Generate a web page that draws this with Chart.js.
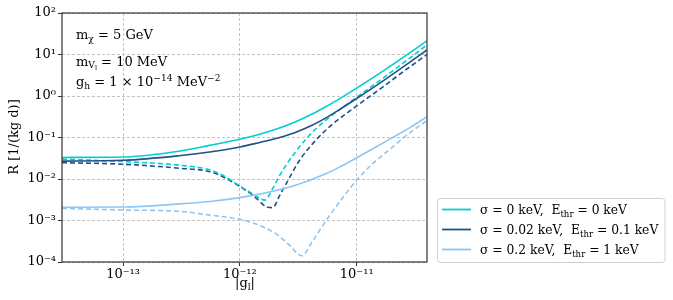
<!DOCTYPE html>
<html>
<head>
<meta charset="utf-8">
<script src="https://cdn.jsdelivr.net/npm/chart.js@4.4.1/dist/chart.umd.min.js"></script>
<style>
html,body{margin:0;padding:0;background:#fff}
#wrap{width:673px;height:300px}
</style>
</head>
<body>
<div id="wrap"><canvas id="mycanvas" width="673" height="300"></canvas></div>
<script>
// values (|g_l| on x, R in 1/(kg d) on y)
var g_cyanSolid = [3e-14, 1e-13, 3e-13, 5.5e-13, 1e-12, 1.48e-12, 2e-12, 2.9e-12, 4.2e-12, 5.5e-12, 7e-12, 1e-11, 1.58e-11, 2.5e-11, 4e-11];
var R_cyanSolid = [0.0331, 0.0339, 0.0468, 0.0646, 0.0912, 0.120, 0.155, 0.229, 0.372, 0.562, 0.832, 1.55, 3.55, 8.51, 21.4];

var g_darkSolid = [3e-14, 1e-13, 3e-13, 5.5e-13, 1e-12, 1.48e-12, 2e-12, 2.9e-12, 4.2e-12, 5.5e-12, 7e-12, 1e-11, 1.58e-11, 2.5e-11, 4e-11];
var R_darkSolid = [0.0269, 0.0282, 0.0363, 0.0447, 0.0589, 0.0759, 0.0933, 0.129, 0.2, 0.302, 0.457, 0.871, 2.04, 5.01, 12.9];

var g_lightSolid = [3e-14, 1e-13, 3.07e-13, 5.55e-13, 1e-12, 1.48e-12, 2.86e-12, 5.5e-12, 7.5e-12, 1e-11, 1.4e-11, 2.03e-11, 2.9e-11, 4e-11];
var R_lightSolid = [0.00208, 0.00211, 0.00251, 0.00288, 0.00355, 0.00432, 0.00676, 0.0135, 0.0209, 0.0324, 0.055, 0.1, 0.178, 0.316];

var g_cyanDash = [3e-14, 1e-13, 3.07e-13, 5.55e-13, 7.45e-13, 1e-12, 1.29e-12, 1.48e-12, 1.64e-12, 1.88e-12, 2.2e-12, 2.86e-12, 3.96e-12, 5.5e-12, 7.64e-12, 1e-11, 1.57e-11, 2.49e-11, 4e-11];
var R_cyanDash = [0.0302, 0.0263, 0.0214, 0.0166, 0.0115, 0.00676, 0.00437, 0.00339, 0.00309, 0.00543, 0.0125, 0.0378, 0.115, 0.269, 0.537, 0.933, 2.34, 6.17, 17.0];

var g_darkDash = [3e-14, 1e-13, 3.07e-13, 5.55e-13, 7.45e-13, 1e-12, 1.29e-12, 1.43e-12, 1.57e-12, 1.73e-12, 1.91e-12, 2.2e-12, 2.51e-12, 3.26e-12, 4.52e-12, 6.27e-12, 1e-11, 1.57e-11, 2.49e-11, 4e-11];
var R_darkDash = [0.0247, 0.0227, 0.0181, 0.015, 0.0107, 0.00661, 0.00407, 0.00316, 0.00245, 0.00209, 0.00204, 0.00411, 0.008, 0.0288, 0.0891, 0.214, 0.575, 1.45, 3.8, 10.0];

var g_lightDash = [3e-14, 1e-13, 3.07e-13, 5.55e-13, 1e-12, 1.48e-12, 2.06e-12, 2.67e-12, 3.37e-12, 4.23e-12, 5.5e-12, 7.64e-12, 1e-11, 1.29e-11, 2.03e-11, 2.67e-11, 4e-11];
var R_lightDash = [0.00197, 0.00179, 0.00166, 0.00135, 0.00107, 0.000759, 0.000468, 0.000251, 0.000141, 0.000331, 0.00102, 0.00363, 0.00933, 0.02, 0.0589, 0.112, 0.257];

var legendLabels = ['σ = 0 keV,  E_{thr} = 0 keV', 'σ = 0.02 keV,  E_{thr} = 0.1 keV', 'σ = 0.2 keV,  E_{thr} = 1 keV'];
var xTickVals = [1e-13, 1e-12, 1e-11];
var xTickLabels = ['10⁻¹³', '10⁻¹²', '10⁻¹¹'];
var yTickVals = [1e-4, 1e-3, 1e-2, 1e-1, 1, 10, 100];
var yTickLabels = ['10⁻⁴', '10⁻³', '10⁻²', '10⁻¹', '10⁰', '10¹', '10²'];
var noteLines = ['m_{χ} = 5 GeV', 'm_{V}~{l} = 10 MeV', 'g_{h} = 1 × 10^{−14} MeV^{−2}'];

var cyan = '#00ced1', dark = '#1f5286', light = '#8ec6f3';
var FONT = '"DejaVu Serif", serif';

function pts(xs, ys){
    var out = [];
    for (var i in xs) out.push({x: xs[i], y: ys[i]});
    return out;
}

// tiny markup: _{..} subscript, ^{..} superscript, ~{..} second-level subscript
function drawRich(ctx, str, x, y, size, align){
    var segs = [], buf = '', i = 0;
    while (i < str.length){
        var c = str[i];
        if ((c === '_' || c === '^' || c === '~') && str[i+1] === '{'){
            if (buf){ segs.push({t: buf, m: 0}); buf = ''; }
            var j = str.indexOf('}', i);
            segs.push({t: str.slice(i+2, j), m: c === '_' ? 1 : (c === '^' ? 2 : 3)});
            i = j + 1;
        } else { buf += c; i++; }
    }
    if (buf) segs.push({t: buf, m: 0});
    var w = 0;
    segs.forEach(function(s){
        s.size = s.m === 0 ? size : (s.m === 3 ? size*0.5 : size*0.7);
        ctx.font = s.size + 'px ' + FONT;
        s.w = ctx.measureText(s.t).width;
        w += s.w;
    });
    var cx = align === 'center' ? x - w/2 : x;
    ctx.textAlign = 'left';
    ctx.textBaseline = 'alphabetic';
    segs.forEach(function(s){
        ctx.font = s.size + 'px ' + FONT;
        var dy = s.m === 1 ? size*0.22 : (s.m === 2 ? -size*0.42 : (s.m === 3 ? size*0.38 : 0));
        ctx.fillText(s.t, cx, y + dy);
        cx += s.w;
    });
    return w;
}

var extras = {
    id: 'extras',
    afterDraw: function(chart){
        var ctx = chart.ctx, a = chart.chartArea;
        ctx.save();
        // frame
        ctx.strokeStyle = '#333';
        ctx.lineWidth = 1.2;
        ctx.setLineDash([]);
        ctx.strokeRect(a.left, a.top, a.right - a.left, a.bottom - a.top);
        ctx.fillStyle = '#000';
        // notes
        drawRich(ctx, noteLines[0], 76, 39, 13);
        drawRich(ctx, noteLines[1], 76, 65.5, 13);
        drawRich(ctx, noteLines[2], 76, 86, 13);
        // axis titles
        drawRich(ctx, '|g_{l}|', 245, 287, 13, 'center');
        ctx.save();
        ctx.translate(18, 137);
        ctx.rotate(-Math.PI/2);
        drawRich(ctx, 'R [1/(kg d)]', 0, 0, 13, 'center');
        ctx.restore();
        // legend
        var bx = 437.5, by = 198.5, bw = 227.5, bh = 64, r = 3;
        ctx.beginPath();
        ctx.moveTo(bx + r, by);
        ctx.arcTo(bx + bw, by, bx + bw, by + bh, r);
        ctx.arcTo(bx + bw, by + bh, bx, by + bh, r);
        ctx.arcTo(bx, by + bh, bx, by, r);
        ctx.arcTo(bx, by, bx + bw, by, r);
        ctx.closePath();
        ctx.fillStyle = 'rgba(255,255,255,0.8)';
        ctx.fill();
        ctx.strokeStyle = '#d0d0d0';
        ctx.lineWidth = 1;
        ctx.stroke();
        var cols = [cyan, dark, light];
        for (var k = 0; k < 3; k++){
            var ry = 209.5 + k*20;
            ctx.strokeStyle = cols[k];
            ctx.lineWidth = 1.8;
            ctx.beginPath();
            ctx.moveTo(442, ry);
            ctx.lineTo(471, ry);
            ctx.stroke();
            ctx.fillStyle = '#000';
            drawRich(ctx, legendLabels[k], 480, ry + 4.5, 12.3);
        }
        ctx.restore();
    }
};

function ds(xs, ys, color, dashed){
    return {
        data: pts(xs, ys),
        borderColor: color,
        borderWidth: 1.6,
        borderDash: dashed ? [5, 3] : [],
        pointRadius: 0,
        fill: false,
        cubicInterpolationMode: 'monotone'
    };
}

var ctx = document.getElementById('mycanvas');
new Chart(ctx, {
    type: 'line',
    data: {
        datasets: [
            ds(g_cyanSolid, R_cyanSolid, cyan, false),
            ds(g_darkSolid, R_darkSolid, dark, false),
            ds(g_lightSolid, R_lightSolid, light, false),
            ds(g_cyanDash, R_cyanDash, cyan, true),
            ds(g_darkDash, R_darkDash, dark, true),
            ds(g_lightDash, R_lightDash, light, true)
        ]
    },
    options: {
        responsive: false,
        animation: false,
        layout: {padding: {top: 13, right: 246, left: 0, bottom: 0}},
        plugins: {legend: {display: false}, tooltip: {enabled: false}},
        scales: {
            x: {
                type: 'logarithmic',
                min: 3e-14, max: 4e-11,
                afterBuildTicks: function(s){ s.ticks = xTickVals.map(function(v){ return {value: v}; }); },
                afterFit: function(s){ s.height = 38; },
                ticks: {
                    autoSkip: false, maxRotation: 0, padding: 1,
                    color: '#000', font: {family: 'DejaVu Serif', size: 13},
                    callback: function(v){ return xTickLabels[xTickVals.indexOf(v)]; }
                },
                grid: {color: '#c4c4c4', lineWidth: 1, tickLength: 4, tickColor: '#333', tickBorderDash: []},
                border: {display: false, dash: [3, 2]}
            },
            y: {
                type: 'logarithmic',
                min: 1e-4, max: 100,
                afterBuildTicks: function(s){ s.ticks = yTickVals.map(function(v){ return {value: v}; }); },
                afterFit: function(s){ s.width = 62; },
                ticks: {
                    autoSkip: false, padding: 2,
                    color: '#000', font: {family: 'DejaVu Serif', size: 13},
                    callback: function(v){ return yTickLabels[yTickVals.indexOf(v)]; }
                },
                grid: {color: '#c4c4c4', lineWidth: 1, tickLength: 4, tickColor: '#333', tickBorderDash: []},
                border: {display: false, dash: [3, 2]}
            }
        }
    },
    plugins: [extras]
});
</script>
</body>
</html>
